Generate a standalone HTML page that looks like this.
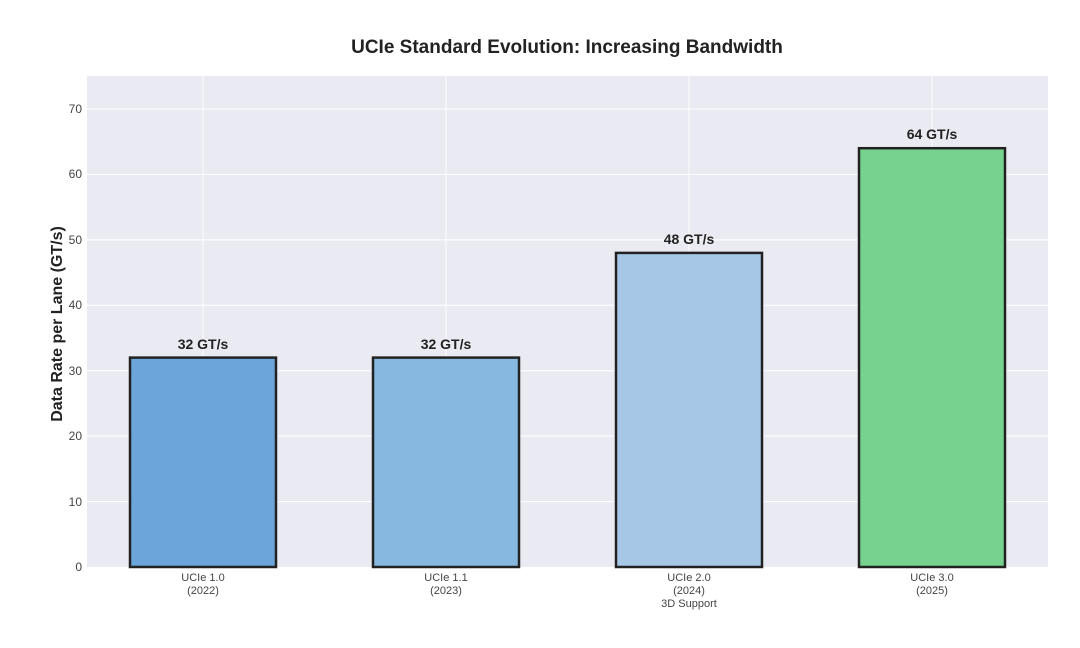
<!DOCTYPE html>
<html><head><meta charset="utf-8"><style>body{margin:0;background:#fff}svg{display:block;font-family:"Liberation Sans",sans-serif}</style></head><body>
<svg width="1080" height="648" viewBox="0 0 1080 648">
<rect width="1080" height="648" fill="#fff"/>
<text x="567" y="53" text-anchor="middle" font-size="19" font-weight="bold" fill="#222">UCIe Standard Evolution: Increasing Bandwidth</text>
<rect x="87" y="76" width="961" height="491" fill="#eaeaf2"/>
<g stroke="#fff" stroke-width="1">
<line x1="87" x2="1048" y1="501.6" y2="501.6"/><line x1="87" x2="1048" y1="436.1" y2="436.1"/>
<line x1="87" x2="1048" y1="370.7" y2="370.7"/><line x1="87" x2="1048" y1="305.3" y2="305.3"/>
<line x1="87" x2="1048" y1="239.9" y2="239.9"/><line x1="87" x2="1048" y1="174.4" y2="174.4"/>
<line x1="87" x2="1048" y1="109" y2="109"/>
<line x1="203" x2="203" y1="76" y2="567"/><line x1="446" x2="446" y1="76" y2="567"/>
<line x1="689" x2="689" y1="76" y2="567"/><line x1="932" x2="932" y1="76" y2="567"/>
</g>
<g font-size="12" fill="#444" text-anchor="end">
<text x="82" y="571">0</text><text x="82" y="506">10</text><text x="82" y="440">20</text>
<text x="82" y="375">30</text><text x="82" y="309">40</text><text x="82" y="244">50</text>
<text x="82" y="178">60</text><text x="82" y="113">70</text>
</g>
<text transform="translate(62,324) rotate(-90)" text-anchor="middle" font-size="16" font-weight="bold" fill="#222">Data Rate per Lane (GT/s)</text>
<g stroke="#222" stroke-width="2.5">
<rect x="130" y="357.6" width="146" height="209.4" fill="#6ba5da"/>
<rect x="373" y="357.6" width="146" height="209.4" fill="#87b8e0"/>
<rect x="616" y="252.9" width="146" height="314.1" fill="#a7c7e7"/>
<rect x="859" y="148.2" width="146" height="418.8" fill="#77d18f"/>
</g>
<g font-size="14" font-weight="bold" fill="#222" text-anchor="middle">
<text x="203" y="349">32 GT/s</text><text x="446" y="349">32 GT/s</text>
<text x="689" y="244">48 GT/s</text><text x="932" y="139">64 GT/s</text>
</g>
<g font-size="11" fill="#444" text-anchor="middle">
<text x="203" y="581">UCIe 1.0</text><text x="203" y="594">(2022)</text>
<text x="446" y="581">UCIe 1.1</text><text x="446" y="594">(2023)</text>
<text x="689" y="581">UCIe 2.0</text><text x="689" y="594">(2024)</text><text x="689" y="607">3D Support</text>
<text x="932" y="581">UCIe 3.0</text><text x="932" y="594">(2025)</text>
</g>
</svg>
</body></html>
